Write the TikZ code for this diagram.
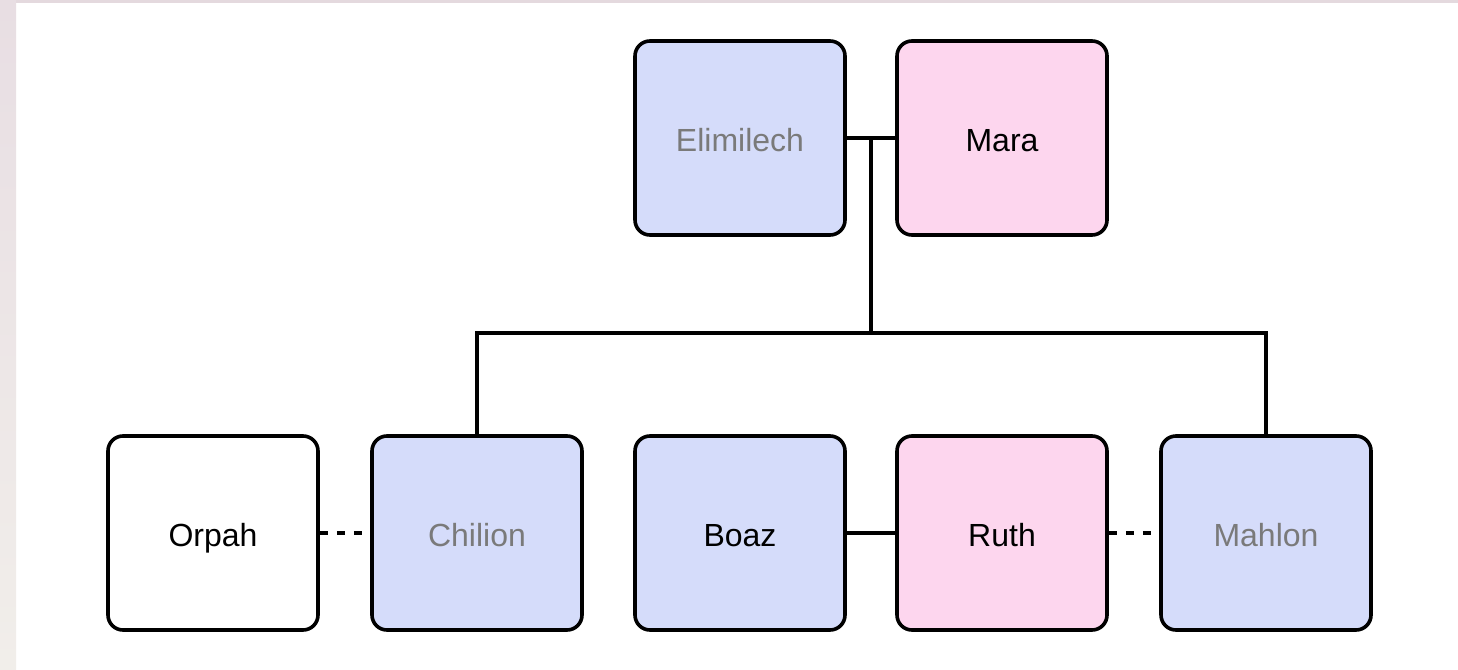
\documentclass[tikz,border=0pt]{standalone}
\usepackage{fontspec}
\setmainfont{Liberation Sans}
\usetikzlibrary{calc}
\definecolor{maleblue}{HTML}{D5DCFA}
\definecolor{femalepink}{HTML}{FDD6EE}
\definecolor{deadgray}{HTML}{7A7A7A}
\definecolor{stripA}{HTML}{E8DEE3}
\definecolor{stripB}{HTML}{F1EEEA}
\definecolor{stripTop}{HTML}{E4D9DE}
\begin{document}
\begin{tikzpicture}[x=1pt,y=-1pt,
  person/.style={draw=black, line width=3.6pt, rounded corners=15pt,
    minimum width=210pt, minimum height=194pt, inner sep=0pt,
    text height=30pt, text depth=3pt,
    font=\fontsize{32}{38}\selectfont},
  male/.style={person, fill=maleblue},
  female/.style={person, fill=femalepink},
  other/.style={person, fill=white},
  dead/.style={text=deadgray},
  link/.style={line width=3.6pt},
  exlink/.style={line width=3.6pt, dash pattern=on 8pt off 9pt}]
\useasboundingbox (0,0) rectangle (1458,669);
\fill[white] (0,0) rectangle (1458,669);
\shade[top color=stripA, bottom color=stripB] (0,0) rectangle (16,669);
\fill[stripTop] (16,0) rectangle (1458,3);

\node[male, dead] (elim) at (740,138) {Elimilech};
\node[female] (mara) at (1002,138) {Mara};

\node[other] (orpah) at (213,533) {Orpah};
\node[male, dead] (chil) at (477,533) {Chilion};
\node[male] (boaz) at (740,533) {Boaz};
\node[female] (ruth) at (1002,533) {Ruth};
\node[male, dead] (mahl) at (1266,533) {Mahlon};

\draw[link] (elim.east) -- (mara.west);
\coordinate (mid) at ($(elim.east)!0.5!(mara.west)$);
\draw[link] (mid) -- ++(0,195) coordinate (railc);
\draw[link] (chil.north) |- (railc) -| (mahl.north);

\draw[exlink] (orpah.east) -- (chil.west);
\draw[link] (boaz.east) -- (ruth.west);
\draw[exlink] (ruth.east) -- (mahl.west);
\end{tikzpicture}
\end{document}
